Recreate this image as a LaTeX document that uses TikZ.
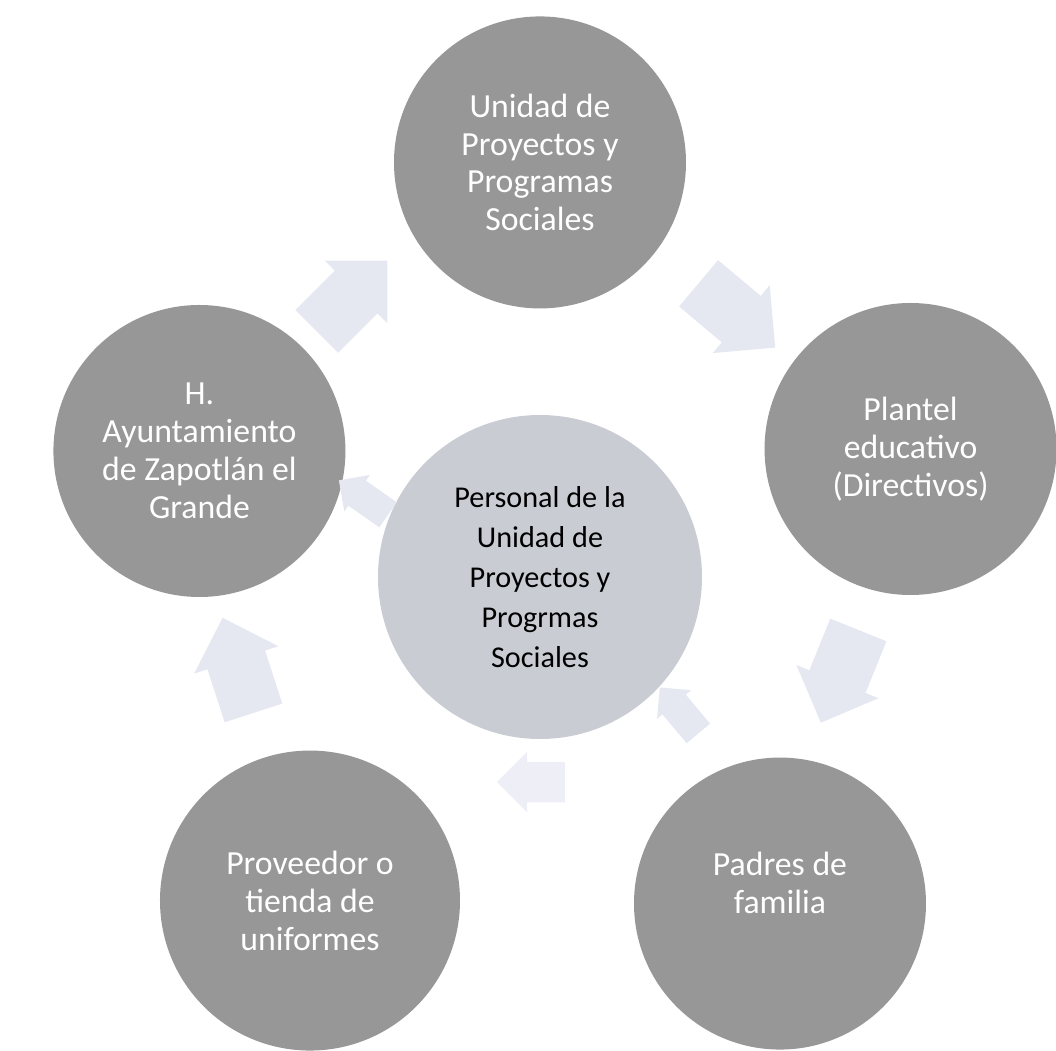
\documentclass[tikz,border=0pt]{standalone}
\usepackage{fontspec}
\setmainfont{Carlito}
\usetikzlibrary{positioning,calc,shapes.arrows}
\definecolor{grisoscuro}{HTML}{979797}
\definecolor{grisclaro}{HTML}{C9CCD3}
\definecolor{lila}{HTML}{E5E7F1}
\definecolor{lilaclaro}{HTML}{EEEFF6}

\begin{document}
\begin{tikzpicture}[outer/.style={circle,fill=grisoscuro,text=white,inner sep=0pt,minimum size=73mm,align=center,font=\fontsize{24}{27}\selectfont},
						mid/.style={circle,fill=grisclaro,text=black,inner sep=0pt,minimum size=81mm,align=center,font=\fontsize{21.5}{28.5}\selectfont},
						bigarrow/.style={single arrow,fill=lila,inner xsep=5mm,inner ysep=7.5mm,single arrow head extend=3.5mm,minimum height=25mm},
						midarrow/.style={single arrow,fill=lilaclaro,inner xsep=3mm,inner ysep=5mm,single arrow head extend=2.5mm,minimum height=17mm},
						smallarrow/.style={single arrow,fill=lila,inner xsep=2mm,inner ysep=3.75mm,single arrow head extend=1.75mm,minimum height=15mm}]
		\useasboundingbox (-135mm,-118.5mm) rectangle (129mm,144.25mm);

		\node[mid]															(0)		{Personal de la\\Unidad de\\Proyectos y\\Progrmas\\Sociales};
		\node[outer,node distance=26.5mm,above=of 0]							(1)		{Unidad de\\Proyectos y\\Programas\\Sociales};
		\node[outer,node distance=15.5mm,right=of 0,yshift=32mm]			(2)		{Plantel\\educativo\\(Directivos)};
		\node[outer,node distance=4.5mm,below=of 0,xshift=60mm]				(3)		{Padres de\\familia\\[1mm]};
		\node[outer,minimum size=75mm,node distance=2.75mm,below=of 0,xshift=-57.5mm]	(4)		{Proveedor o\\tienda de\\uniformes};
		\node[outer,node distance=8mm,left=of 0,yshift=31.5mm]				(5)		{H.\\Ayuntamiento\\de Zapotl\'an el\\Grande};

		\node[bigarrow,rotate=45,xshift=-5mm,yshift=5mm]	(a1)	at ($(5)!0.5!(1)$)	{};
		\node[bigarrow,rotate=-40]							(a2)	at ($(1)!0.5!(2)$)	{};
		\node[bigarrow,rotate=-112]							(a3)	at ($(2)!0.5!(3)+(0,3.5mm)$)	{};
		\node[midarrow,rotate=180]							(a4)	at ($(3)!0.5!(4)+(-1mm,30mm)$)	{};
		\node[bigarrow,rotate=108]							(a5)	at ($(4)!0.5!(5)+(-3mm,-1mm)$)	{};
		\node[smallarrow,rotate=130]						(a6)	at ($(3)!0.5!(0)+(6mm,6mm)$)	{};
		\node[smallarrow,rotate=145]						(a7)	at ($(0)!0.5!(5)+(0,3mm)$)	{};
	\end{tikzpicture}
\end{document}
